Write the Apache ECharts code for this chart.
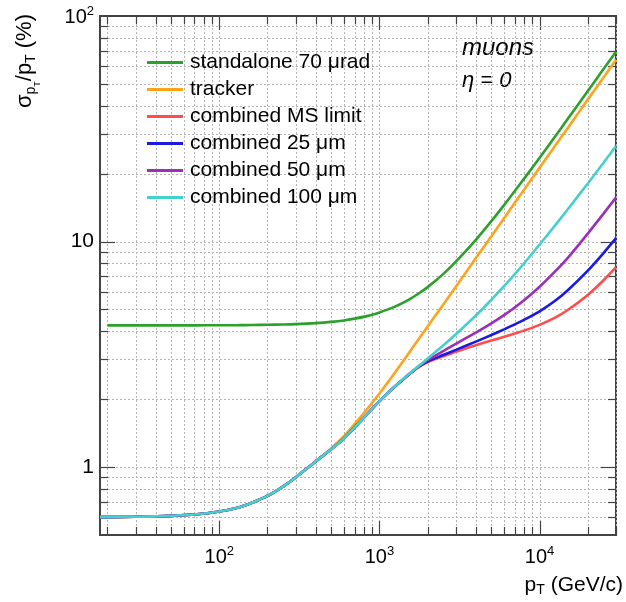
<!DOCTYPE html>
<html><head><meta charset="utf-8">
<script src="https://cdn.jsdelivr.net/npm/echarts@6/dist/echarts.min.js"></script>
<style>html,body{margin:0;padding:0;background:#fff}#c{width:626px;height:602px}</style>
</head><body><div id="c"></div>
<script>
// ---- data ----
const pT = [18, 20, 30, 40, 50, 70, 100, 130, 160, 200, 250, 300, 400, 500, 600, 700, 850, 1000, 1200, 1500, 1750, 2000, 2500, 3000, 4000, 5000, 6000, 7000, 8500, 10000, 12500, 15000, 20000, 25000, 30000];
const standalone70urad = [null, 4.25, 4.25, 4.25, 4.25, 4.25, 4.256, 4.26, 4.266, 4.276, 4.29, 4.306, 4.35, 4.405, 4.47, 4.553, 4.683, 4.85, 5.08, 5.49, 5.87, 6.28, 7.17, 8.14, 10.18, 12.32, 14.51, 16.75, 20.11, 23.5, 29.2, 35.0, 46.5, 58.0, 69.5];
const tracker = [0.600, 0.600, 0.602, 0.605, 0.608, 0.616, 0.635, 0.66, 0.695, 0.745, 0.82, 0.9, 1.06, 1.21, 1.37, 1.55, 1.83, 2.12, 2.52, 3.15, 3.68, 4.2, 5.25, 6.3, 8.45, 10.55, 12.7, 14.85, 18.05, 21.25, 26.6, 31.9, 42.6, 53.2, 63.9];
const combinedMSlimit = [0.600, 0.600, 0.602, 0.605, 0.608, 0.616, 0.635, 0.66, 0.695, 0.745, 0.82, 0.9, 1.06, 1.2, 1.34, 1.5, 1.735, 1.96, 2.22, 2.55, 2.77, 2.92, 3.1, 3.25, 3.47, 3.64, 3.78, 3.91, 4.09, 4.27, 4.6, 4.97, 5.8, 6.72, 7.7];
const combined25um = [0.600, 0.600, 0.602, 0.605, 0.608, 0.616, 0.635, 0.66, 0.695, 0.745, 0.82, 0.9, 1.06, 1.2, 1.34, 1.5, 1.735, 1.96, 2.22, 2.55, 2.78, 2.94, 3.14, 3.31, 3.6, 3.85, 4.08, 4.29, 4.6, 4.9, 5.46, 6.08, 7.43, 8.87, 10.35];
const combined50um = [0.600, 0.600, 0.602, 0.605, 0.608, 0.616, 0.635, 0.66, 0.695, 0.745, 0.82, 0.9, 1.06, 1.2, 1.34, 1.5, 1.735, 1.96, 2.22, 2.55, 2.79, 2.98, 3.27, 3.52, 3.95, 4.34, 4.72, 5.1, 5.69, 6.3, 7.37, 8.47, 10.85, 13.26, 15.68];
const combined100um = [0.600, 0.600, 0.602, 0.605, 0.608, 0.616, 0.635, 0.66, 0.695, 0.745, 0.82, 0.9, 1.06, 1.2, 1.34, 1.5, 1.735, 1.96, 2.22, 2.56, 2.8, 3.03, 3.46, 3.88, 4.7, 5.52, 6.34, 7.17, 8.43, 9.7, 11.8, 13.9, 18.1, 22.3, 26.5];

const seriesNames = ['standalone 70 μrad', 'tracker', 'combined MS limit', 'combined 25 μm', 'combined 50 μm', 'combined 100 μm'];
const seriesValues = [standalone70urad, tracker, combinedMSlimit, combined25um, combined50um, combined100um];
const seriesColors = ['#2ca02c', '#ffa31a', '#ff4d4d', '#1a1ae0', '#9a2fb8', '#45d0d0'];

const xMin = 18, xMax = 30000, yMin = 0.5, yMax = 100;
const xDecades = [10, 100, 1000, 10000];
const yDecades = [0.1, 1, 10];

function gridVals(decs, lo, hi) {
  const out = [];
  decs.forEach(d => { for (let k = 1; k <= 9; k++) { const v = d * k; if (v > lo * 1.0001 && v < hi * 0.9999) out.push(v); } });
  return out;
}
const xGridVals = gridVals(xDecades, xMin, xMax * 1.01);
const yGridVals = gridVals(yDecades, yMin, yMax);
function isDecade(v) { const l = Math.log10(v); return Math.abs(l - Math.round(l)) < 1e-6; }

const FONT = '"Liberation Sans", Arial, Helvetica, sans-serif';
const GRID_STYLE = { stroke: '#b4b4b4', lineWidth: 1, lineDash: [2, 2] };
const TICK_STYLE = { stroke: '#444', lineWidth: 1.2 };

function renderXGrid(params, api) {
  const cs = params.coordSys;
  const v = api.value(0);
  const px = Math.round(api.coord([v, 1])[0]) + 0.5;
  const tl = isDecade(v) ? 14 : 8;
  const b = cs.y + cs.height;
  return { type: 'group', children: [
    { type: 'line', shape: { x1: px, y1: cs.y, x2: px, y2: b }, style: GRID_STYLE },
    { type: 'line', shape: { x1: px, y1: b, x2: px, y2: b - tl }, style: TICK_STYLE },
    { type: 'line', shape: { x1: px, y1: cs.y, x2: px, y2: cs.y + tl }, style: TICK_STYLE }
  ]};
}
function renderYGrid(params, api) {
  const cs = params.coordSys;
  const v = api.value(1);
  const py = Math.round(api.coord([100, v])[1]) + 0.5;
  const tl = isDecade(v) ? 15 : 8;
  const r = cs.x + cs.width;
  return { type: 'group', children: [
    { type: 'line', shape: { x1: cs.x, y1: py, x2: r, y2: py }, style: GRID_STYLE },
    { type: 'line', shape: { x1: cs.x, y1: py, x2: cs.x + tl, y2: py }, style: TICK_STYLE },
    { type: 'line', shape: { x1: r, y1: py, x2: r - tl, y2: py }, style: TICK_STYLE }
  ]};
}

function powLabel(v) {
  if (!isDecade(v)) return '';
  const e = Math.round(Math.log10(v));
  return '{b|10}{s|' + e + '}';
}
function yLabel(v) {
  if (!isDecade(v)) return '';
  const e = Math.round(Math.log10(v));
  if (e === 0) return '{n|1}';
  if (e === 1) return '{n|10}';
  return '{b|10}{s|' + e + '}';
}
const richLabel = {
  n: { fontSize: 21, fontFamily: FONT, color: '#000' },
  b: { fontSize: 20, lineHeight: 22, fontFamily: FONT, color: '#000', verticalAlign: 'bottom' },
  s: { fontSize: 13, lineHeight: 13, fontFamily: FONT, color: '#000', verticalAlign: 'top' }
};

const chart = echarts.init(document.getElementById('c'), null, { renderer: 'canvas' });

const lineSeries = seriesNames.map((name, i) => ({
  name: name,
  type: 'line',
  data: pT.map((p, j) => [p, seriesValues[i][j]]).filter(d => d[1] !== null),
  symbol: 'none',
  smooth: 0.25,
  lineStyle: { color: seriesColors[i], width: 2.6 },
  itemStyle: { color: seriesColors[i] },
  z: 3 + i,
  silent: true
}));

chart.setOption({
  animation: false,
  backgroundColor: '#fff',
  grid: { left: 100, top: 16, right: 10, bottom: 67, show: true, borderColor: '#444', borderWidth: 2, backgroundColor: 'transparent', containLabel: false },
  xAxis: {
    type: 'log', logBase: 10, min: xMin, max: xMax,
    axisLine: { show: false }, axisTick: { show: false }, splitLine: { show: false },
    axisLabel: { formatter: powLabel, rich: richLabel, margin: 10, showMinLabel: true, showMaxLabel: true, hideOverlap: false }
  },
  yAxis: {
    type: 'log', logBase: 10, min: yMin, max: yMax,
    axisLine: { show: false }, axisTick: { show: false }, splitLine: { show: false },
    axisLabel: { formatter: yLabel, rich: richLabel, margin: 6, showMinLabel: true, showMaxLabel: true, hideOverlap: false }
  },
  legend: {
    data: seriesNames,
    orient: 'vertical', left: 147, top: 52, padding: 0,
    itemWidth: 36, itemHeight: 3, itemGap: 6, icon: 'rect',
    selectedMode: false,
    textStyle: { fontSize: 21, color: '#000', fontFamily: FONT, padding: [0, 0, 0, 2] }
  },
  graphic: [
    { type: 'text', x: 462, y: 48, style: { text: 'muons', font: 'italic 24px ' + FONT, fill: '#000', verticalAlign: 'middle', align: 'left' } },
    { type: 'text', x: 462, y: 81, style: { text: 'η = 0', font: 'italic 22px ' + FONT, fill: '#000', verticalAlign: 'middle', align: 'left' } },
    { type: 'text', x: 623, y: 586, style: {
        text: '{m|p}{t|T}{m| (GeV/c)}', align: 'right', verticalAlign: 'middle',
        rich: {
          m: { fontSize: 21, lineHeight: 23, fontFamily: FONT, fill: '#000', verticalAlign: 'top' },
          t: { fontSize: 14, lineHeight: 14, fontFamily: FONT, fill: '#000', verticalAlign: 'bottom' }
        } } },
    { type: 'text', x: 26, y: 14, rotation: Math.PI / 2, style: {
        text: '{m|σ}{t|p}{u|T}{m|/p}{t|T}{m| (%)}', align: 'right', verticalAlign: 'middle',
        rich: {
          m: { fontSize: 22, lineHeight: 24, fontFamily: FONT, fill: '#000', verticalAlign: 'top' },
          t: { fontSize: 14, lineHeight: 14, fontFamily: FONT, fill: '#000', verticalAlign: 'bottom' },
          u: { fontSize: 9, lineHeight: 9, fontFamily: FONT, fill: '#000', verticalAlign: 'bottom', padding: [0, 0, -4, 0] }
        } } }
  ],
  series: [
    { type: 'custom', name: 'xgrid', renderItem: renderXGrid, data: xGridVals.map(v => [v, 1]), encode: { x: 0, y: 1 }, silent: true, z: 1, clip: false },
    { type: 'custom', name: 'ygrid', renderItem: renderYGrid, data: yGridVals.map(v => [100, v]), encode: { x: 0, y: 1 }, silent: true, z: 1, clip: false }
  ].concat(lineSeries)
});
</script>
</body></html>
